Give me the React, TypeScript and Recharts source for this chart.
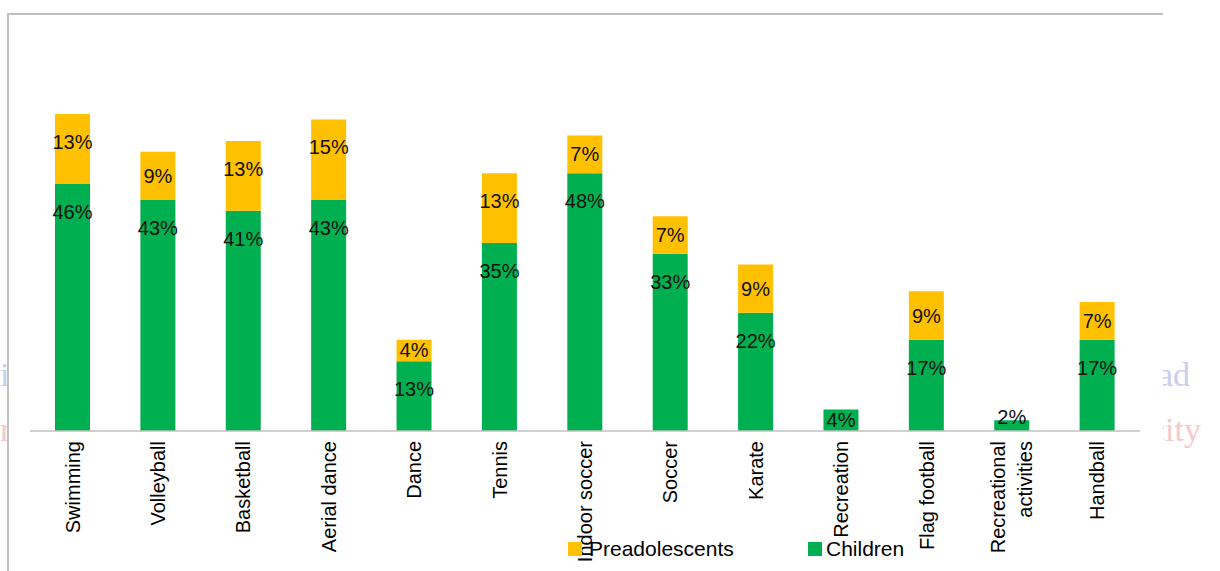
import React from "react";
import { BarChart, Bar, XAxis, YAxis, LabelList, Legend } from "recharts";

const categories = [
  "Swimming",
  "Volleyball",
  "Basketball",
  "Aerial dance",
  "Dance",
  "Tennis",
  "Indoor soccer",
  "Soccer",
  "Karate",
  "Recreation",
  "Flag football",
  "Recreational activities",
  "Handball",
];
const children = [46, 43, 41, 43, 13, 35, 48, 33, 22, 4, 17, 2, 17];
const preadolescents = [13, 9, 13, 15, 4, 13, 7, 7, 9, 0, 9, 0, 7];
const tickLines: Record<string, string[]> = {
  "Recreational activities": ["Recreational", "activities"],
};

const data = categories.map((c, i) => ({
  name: c,
  children: children[i],
  preadolescents: preadolescents[i],
}));

const GREEN = "#00b050";
const YELLOW = "#ffc000";
const FONT = "'Liberation Sans', Arial, sans-serif";

const SegLabel = (props: any) => {
  const { x, y, width, height, value } = props;
  if (!value) return null;
  const h = Math.abs(height);
  const cy = h < 16 ? y + h - 14 : y + Math.min(28, h / 2);
  return (
    <text
      x={x + width / 2}
      y={cy}
      textAnchor="middle"
      dominantBaseline="central"
      fontFamily={FONT}
      fontSize={20}
      fill="#111"
    >
      {value}%
    </text>
  );
};

const Tick = (props: any) => {
  const { x, y, payload } = props;
  const lines = tickLines[payload.value] || [payload.value];
  const lh = 27;
  return (
    <g transform={`translate(${x},${y})`}>
      {lines.map((l, i) => (
        <text
          key={i}
          transform="rotate(-90)"
          x={0}
          y={(i - (lines.length - 1) / 2) * lh}
          dy="0.35em"
          textAnchor="end"
          fontFamily={FONT}
          fontSize={20}
          fill="#000"
        >
          {l}
        </text>
      ))}
    </g>
  );
};

const LegendContent = () => (
  <div style={{ position: "relative", width: 360, height: 24, fontFamily: FONT, fontSize: 21, color: "#000" }}>
    <div style={{ position: "absolute", left: 0, top: 5, width: 14, height: 14, background: YELLOW }} />
    <div style={{ position: "absolute", left: 21, top: 0, lineHeight: "24px" }}>Preadolescents</div>
    <div style={{ position: "absolute", left: 240, top: 5, width: 14, height: 14, background: GREEN }} />
    <div style={{ position: "absolute", left: 258, top: 0, lineHeight: "24px" }}>Children</div>
  </div>
);

export default function App() {
  return (
    <div style={{ position: "absolute", left: 0, top: 0, width: 1220, height: 571, overflow: "hidden", background: "#fff" }}>
      <div style={{ position: "absolute", left: 1158, top: 356, fontFamily: "'Liberation Serif', serif", fontSize: 34, color: "#c9cdee" }}>ad</div>
      <div style={{ position: "absolute", left: 1150, top: 411, fontFamily: "'Liberation Serif', serif", fontSize: 34, color: "#f5c9cf" }}>city</div>
      <div style={{ position: "absolute", left: 0, top: 356, fontFamily: "'Liberation Serif', serif", fontSize: 34, color: "#c9cdee" }}>i</div>
      <div style={{ position: "absolute", left: 0, top: 411, fontFamily: "'Liberation Serif', serif", fontSize: 34, color: "#f5c9cf" }}>n</div>
      <div
        style={{
          position: "absolute",
          left: 7,
          top: 13,
          width: 1154,
          height: 600,
          background: "#fff",
          borderTop: "2px solid #c0c0c0",
          borderLeft: "2px solid #c0c0c0",
        }}
      />
      <div style={{ position: "absolute", left: 0, top: 0 }}>
        <BarChart
          width={1220}
          height={571}
          data={data}
          margin={{ top: 55, right: 80, left: 30, bottom: 0 }}
          barSize={35}
        >
          <XAxis
            dataKey="name"
            interval={0}
            height={116}
            tickLine={false}
            axisLine={{ stroke: "#c0c0c0", strokeWidth: 1.5 }}
            tick={<Tick />}
            tickMargin={4}
          />
          <YAxis hide domain={[0, 70]} />
          <Legend
            content={<LegendContent />}
            wrapperStyle={{ position: "absolute", left: 568, top: 537, width: 360 }}
          />
          <Bar dataKey="children" stackId="a" fill={GREEN} isAnimationActive={false}>
            <LabelList dataKey="children" content={<SegLabel />} />
          </Bar>
          <Bar dataKey="preadolescents" stackId="a" fill={YELLOW} isAnimationActive={false}>
            <LabelList dataKey="preadolescents" content={<SegLabel />} />
          </Bar>
        </BarChart>
      </div>
    </div>
  );
}
